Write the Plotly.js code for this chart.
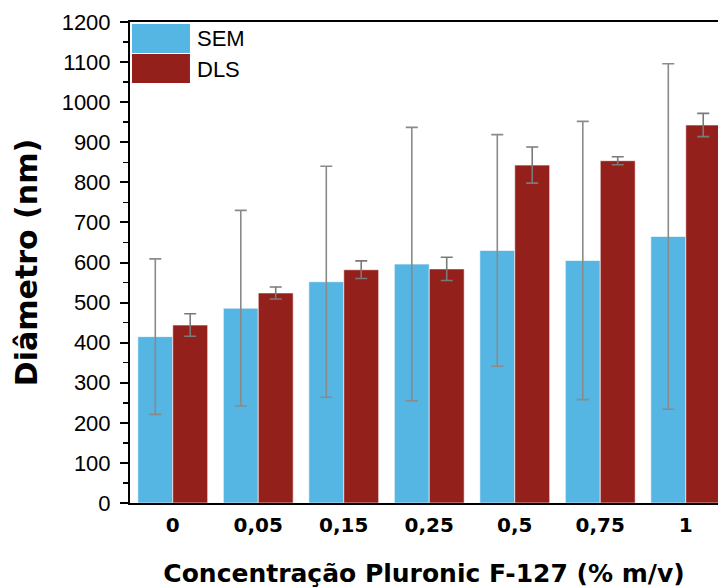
<!DOCTYPE html>
<html>
<head>
<meta charset="utf-8">
<script src="https://cdn.plot.ly/plotly-3.0.1.min.js"></script>
<style>html,body{margin:0;padding:0;background:#fff;}#chart{width:718px;height:588px;}</style>
</head>
<body>
<div id="chart"></div>
<script>
const categories = ["0", "0,05", "0,15", "0,25", "0,5", "0,75", "1"];
const semValues = [415, 486, 552, 596, 630, 605, 665];
const semErrors = [194, 244, 288, 341, 289, 347, 431];
const dlsValues = [444, 524, 582, 584, 843, 854, 943];
const dlsErrors = [28, 15, 22, 29, 45, 10, 29];
const seriesNames = ["SEM", "DLS"];

const semColor = "#55b5e3";
const dlsColor = "#94201c";
const regular = "'Liberation Sans', Arial, sans-serif";
const bold = "'DejaVu Sans', sans-serif";

const traces = [
  {
    type: "bar", name: seriesNames[0], x: categories, y: semValues,
    marker: {color: semColor, line: {color: "rgba(255,255,255,0.6)", width: 1}},
    error_y: {type: "data", array: semErrors, visible: true, color: "#8a8a8a", thickness: 1.6, width: 6},
    showlegend: false
  },
  {
    type: "bar", name: seriesNames[1], x: categories, y: dlsValues,
    marker: {color: dlsColor, line: {color: "rgba(255,255,255,0.6)", width: 1}},
    error_y: {type: "data", array: dlsErrors, visible: true, color: "#7a7a7a", thickness: 1.6, width: 6},
    showlegend: false
  }
];

const layout = {
  width: 718, height: 588,
  margin: {l: 130, r: 0, t: 22, b: 85},
  paper_bgcolor: "#fff", plot_bgcolor: "#fff",
  barmode: "group", bargap: 0.183, bargroupgap: 0,
  xaxis: {
    type: "category", range: [-0.5, 6.377],
    showline: true, linecolor: "#000", linewidth: 2, mirror: true,
    ticks: "", showgrid: false, zeroline: false,
    tickfont: {family: bold, size: 20, color: "#000", weight: "bold"},
    ticklabelstandoff: 3,
    title: {text: "<b>Concentração Pluronic F-127 (% m/v)</b>", font: {family: bold, size: 25, color: "#000"}, standoff: 31}
  },
  yaxis: {
    range: [0, 1200], dtick: 100, tick0: 0,
    showline: true, linecolor: "#000", linewidth: 2,
    ticks: "outside", ticklen: 8, tickwidth: 2, tickcolor: "#000",
    minor: {dtick: 50, ticks: "outside", ticklen: 5, tickwidth: 1.5, tickcolor: "#000"},
    showgrid: false, zeroline: false,
    tickfont: {family: regular, size: 22, color: "#000"},
    ticklabelstandoff: 5,
    title: {text: "<b>Diâmetro (nm)</b>", font: {family: bold, size: 30, color: "#000"}, standoff: 15}
  },
  shapes: [
    {type: "rect", xref: "paper", yref: "paper", x0: 0.0034, x1: 0.102, y0: 0.9356, y1: 0.9958, fillcolor: semColor, line: {width: 0}},
    {type: "rect", xref: "paper", yref: "paper", x0: 0.0034, x1: 0.102, y0: 0.8733, y1: 0.9335, fillcolor: dlsColor, line: {width: 0}}
  ],
  annotations: [
    {xref: "paper", yref: "paper", x: 0.110, y: 0.9657, xanchor: "left", yanchor: "middle", text: seriesNames[0], showarrow: false, font: {family: regular, size: 22, color: "#000"}},
    {xref: "paper", yref: "paper", x: 0.110, y: 0.9013, xanchor: "left", yanchor: "middle", text: seriesNames[1], showarrow: false, font: {family: regular, size: 22, color: "#000"}}
  ]
};

Plotly.newPlot("chart", traces, layout, {displayModeBar: false, staticPlot: true});
</script>
</body>
</html>
